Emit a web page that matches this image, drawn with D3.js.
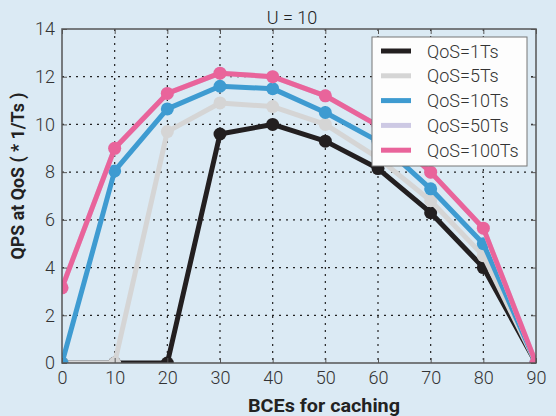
<!DOCTYPE html>
<html><head><meta charset="utf-8">
<script src="https://cdn.jsdelivr.net/npm/d3@7"></script>
<style>body{margin:0;background:#dbeaf4;} svg{display:block;}</style>
</head><body><svg id="c" width="556" height="416"></svg>
<script>
const xValues = [0,10,20,30,40,50,60,70,80,90];
const seriesNames = ["QoS=1Ts","QoS=5Ts","QoS=10Ts","QoS=50Ts","QoS=100Ts"];
const qos1   = [0,0,0,9.6,10.0,9.3,8.15,6.3,4.0,0];
const qos5   = [0,0,9.7,10.9,10.75,10.0,8.6,6.8,4.5,0];
const qos10  = [0,8.05,10.65,11.6,11.5,10.5,9.3,7.3,5.0,0];
const qos50  = [3.15,9.0,11.3,12.15,12.0,11.2,9.95,8.0,5.65,0];
const qos100 = [3.15,9.0,11.3,12.15,12.0,11.2,9.95,8.0,5.65,0];
const xTicks = [0,10,20,30,40,50,60,70,80,90];
const yTicks = [0,2,4,6,8,10,12,14];
const colors = ["#231f20","#d5d5d5","#3e9bd1","#cdc9e4","#e9649b"];
const seriesValues = [qos1,qos5,qos10,qos50,qos100];

const svg = d3.select("#c");
const L=62,R=536,T=29,B=363;
const x = d3.scaleLinear().domain([0,90]).range([L,R]);
const y = d3.scaleLinear().domain([0,14]).range([B,T]);
const font = "Roboto, 'Liberation Sans', Arial, sans-serif";

svg.append("defs").append("clipPath").attr("id","pc").append("rect")
  .attr("x",L).attr("y",T).attr("width",R-L).attr("height",B-T);

// grid
const g = svg.append("g");
g.selectAll(".gx").data(xTicks.filter(d=>d>0&&d<90)).join("line")
  .attr("x1",d=>x(d)).attr("x2",d=>x(d)).attr("y1",T).attr("y2",B)
  .attr("stroke","#222").attr("stroke-width",1.2).attr("stroke-dasharray","2,5");
g.selectAll(".gy").data(yTicks.filter(d=>d>0&&d<14)).join("line")
  .attr("y1",d=>y(d)).attr("y2",d=>y(d)).attr("x1",L).attr("x2",R)
  .attr("stroke","#222").attr("stroke-width",1.2).attr("stroke-dasharray","2,5");

// series
const plot = svg.append("g").attr("clip-path","url(#pc)");
const line = d3.line().x((d,i)=>x(xValues[i])).y(d=>y(d));
seriesValues.forEach((vals,si)=>{
  const sg = plot.append("g");
  sg.append("path").attr("d",line(vals)).attr("fill","none")
    .attr("stroke",colors[si]).attr("stroke-width",5).attr("stroke-linejoin","round");
  sg.selectAll("circle").data(vals).join("circle")
    .attr("cx",(d,i)=>x(xValues[i])).attr("cy",d=>y(d)).attr("r",6.5)
    .attr("fill",colors[si]);
});

// frame
svg.append("rect").attr("x",L).attr("y",T).attr("width",R-L).attr("height",B-T)
  .attr("fill","none").attr("stroke","#555").attr("stroke-width",1.5);

// axes
const xa = svg.append("g").attr("transform",`translate(0,${B})`)
  .call(d3.axisBottom(x).tickValues(xTicks).tickSize(-5).tickPadding(8).tickFormat(d3.format("d")));
const ya = svg.append("g").attr("transform",`translate(${L},0)`)
  .call(d3.axisLeft(y).tickValues(yTicks).tickSize(-5).tickPadding(7).tickFormat(d3.format("d")));
svg.append("g").attr("transform",`translate(${R},0)`)
  .call(d3.axisRight(y).tickValues(yTicks).tickSize(-5).tickFormat(""));
svg.append("g").attr("transform",`translate(0,${T})`)
  .call(d3.axisTop(x).tickValues(xTicks).tickSize(-5).tickFormat(""));
svg.selectAll(".domain").remove();
svg.selectAll(".tick line").attr("stroke","#555");
[xa,ya].forEach(a=>a.selectAll("text").attr("font-family",font).attr("font-weight",300)
  .attr("font-size",18).attr("fill","#333"));

// title & labels
svg.append("text").attr("x",292).attr("y",24).attr("text-anchor","middle")
  .attr("font-family",font).attr("font-weight",300).attr("font-size",18).attr("fill","#222").text("U = 10");
svg.append("text").attr("x",324).attr("y",412).attr("text-anchor","middle")
  .attr("font-family",font).attr("font-size",18).attr("font-weight","bold").attr("fill","#222")
  .attr("textLength",152).attr("lengthAdjust","spacingAndGlyphs").text("BCEs for caching");
svg.append("text").attr("transform",`translate(24,176) rotate(-90)`).attr("text-anchor","middle")
  .attr("font-family",font).attr("font-size",18).attr("font-weight","bold").attr("fill","#222")
  .attr("textLength",167).attr("lengthAdjust","spacingAndGlyphs").text("QPS at QoS ( * 1/Ts )");

// legend
const lg = svg.append("g");
lg.append("rect").attr("x",372).attr("y",37).attr("width",155).attr("height",129)
  .attr("fill","#fdfdfd").attr("stroke","#777").attr("stroke-width",1);
seriesNames.forEach((n,i)=>{
  const yy = 51 + i*24.8;
  lg.append("line").attr("x1",381).attr("x2",411).attr("y1",yy).attr("y2",yy)
    .attr("stroke",colors[i]).attr("stroke-width",5);
  lg.append("text").attr("x",427).attr("y",yy+6.5).attr("font-family",font).attr("font-weight",300)
    .attr("font-size",18).attr("fill","#333").text(n);
});
</script></body></html>
